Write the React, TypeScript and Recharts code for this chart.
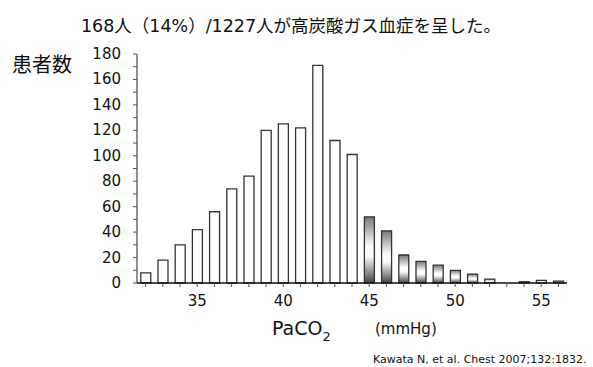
import React from "react";
import { BarChart, Bar, XAxis, YAxis, Cell } from "recharts";

// PaCO2 (mmHg) bins and patient counts
const paco2 = [32, 33, 34, 35, 36, 37, 38, 39, 40, 41, 42, 43, 44, 45, 46, 47, 48, 49, 50, 51, 52, 53, 54, 55, 56];
const patients = [8, 18, 30, 42, 56, 74, 84, 120, 125, 122, 171, 112, 101, 52, 41, 22, 17, 14, 10, 7, 3, 0, 1, 2, 1.5];

const yTicks = [0, 10, 20, 30, 40, 50, 60, 70, 80, 90, 100, 110, 120, 130, 140, 150, 160, 170, 180];
const xLabels = [35, 40, 45, 50, 55];
const hypercapnia = 45;

const latin = "'DejaVu Sans', Verdana, sans-serif";
const jp = "'DejaVu Sans', 'Noto Sans CJK JP', sans-serif";

const data = paco2.map((p, i) => ({ paco2: p, count: patients[i] }));

const XTick = (props: any) => {
  const { x, y, payload } = props;
  if (!xLabels.includes(payload.value)) return <g />;
  return (
    <text x={x} y={y} dy={17} textAnchor="middle" fontSize={15} fill="#111" fontFamily={latin}>
      {payload.value}
    </text>
  );
};

const YTick = (props: any) => {
  const { x, y, payload } = props;
  if (payload.value % 20 !== 0) return <g />;
  return (
    <text x={x} y={y} dy={5} textAnchor="end" fontSize={15} fill="#111" fontFamily={latin}>
      {payload.value}
    </text>
  );
};

export default function App() {
  return (
    <div
      style={{
        position: "absolute",
        left: 0,
        top: 0,
        width: 593,
        height: 367,
        background: "#fff",
        fontFamily: jp,
        color: "#111",
      }}
    >
      <BarChart
        width={593}
        height={367}
        data={data}
        margin={{ top: 54, right: 26, left: 77, bottom: 54 }}
        barCategoryGap="22%"
      >
        <defs>
          <linearGradient id="hyperFill" x1="0" y1="0" x2="0" y2="1">
            <stop offset="0%" stopColor="#777" />
            <stop offset="45%" stopColor="#fff" />
            <stop offset="60%" stopColor="#fafafa" />
            <stop offset="100%" stopColor="#444" />
          </linearGradient>
        </defs>
        <XAxis
          dataKey="paco2"
          type="category"
          interval={0}
          height={30}
          tick={<XTick />}
          tickSize={4}
          tickMargin={2}
          axisLine={{ stroke: "#111", strokeWidth: 1.5 }}
          tickLine={{ stroke: "#555" }}
        />
        <YAxis
          type="number"
          domain={[0, 180]}
          ticks={yTicks}
          interval={0}
          width={60}
          tick={<YTick />}
          tickSize={4}
          tickMargin={12}
          axisLine={{ stroke: "#222" }}
          tickLine={{ stroke: "#555" }}
        />
        <Bar dataKey="count" isAnimationActive={false} stroke="#333" strokeWidth={1.3}>
          {data.map((d) => (
            <Cell key={d.paco2} fill={d.paco2 >= hypercapnia ? "url(#hyperFill)" : "#fff"} />
          ))}
        </Bar>
      </BarChart>

      <div
        style={{
          position: "absolute",
          left: 0,
          width: 582,
          top: 12,
          textAlign: "center",
          fontSize: 17.5,
          whiteSpace: "nowrap",
        }}
      >
        168人（14%）/1227人が高炭酸ガス血症を呈した。
      </div>
      <div style={{ position: "absolute", left: 12, top: 49, fontSize: 20, fontFamily: "'Noto Sans CJK JP', sans-serif", fontWeight: 400 }}>
        患者数
      </div>
      <div style={{ position: "absolute", left: 272, top: 317, fontSize: 19, fontFamily: latin, whiteSpace: "nowrap" }}>
        PaCO<sub style={{ fontSize: 13, verticalAlign: "-6px" }}>2</sub>
      </div>
      <div style={{ position: "absolute", left: 375, top: 320, fontSize: 15, fontFamily: latin }}>
        (mmHg)
      </div>
      <div style={{ position: "absolute", left: 373, top: 353, fontSize: 11, fontFamily: latin, whiteSpace: "nowrap" }}>
        Kawata N, et al. Chest 2007;132:1832.
      </div>
    </div>
  );
}
